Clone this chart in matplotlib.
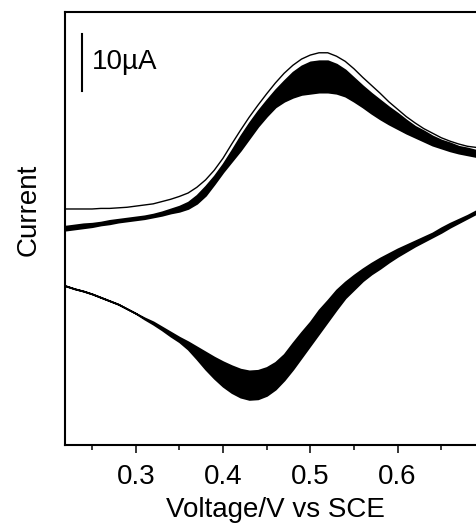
import matplotlib
matplotlib.use("Agg")
import matplotlib.pyplot as plt

plt.rcParams['font.family'] = ['Liberation Sans', 'DejaVu Sans']

# potential grid (V vs SCE), 0.21 ... 0.70 in 10 mV steps
voltage = [0.21, 0.22, 0.23, 0.24, 0.25, 0.26, 0.27, 0.28, 0.29, 0.30,
           0.31, 0.32, 0.33, 0.34, 0.35, 0.36, 0.37, 0.38, 0.39, 0.40,
           0.41, 0.42, 0.43, 0.44, 0.45, 0.46, 0.47, 0.48, 0.49, 0.50,
           0.51, 0.52, 0.53, 0.54, 0.55, 0.56, 0.57, 0.58, 0.59, 0.60,
           0.61, 0.62, 0.63, 0.64, 0.65, 0.66, 0.67, 0.68, 0.69, 0.70]

# anodic sweep, first cycle (thin outer line), uA
fwd_first = [3.7, 3.7, 3.7, 3.7, 3.7, 3.8, 3.8, 3.9, 4.0, 4.2,
             4.4, 4.6, 5.0, 5.4, 5.9, 6.5, 7.5, 8.8, 10.5, 12.6,
             15.1, 17.5, 19.8, 21.9, 23.9, 25.8, 27.5, 28.9, 30.0, 30.7,
             31.1, 31.1, 30.5, 29.6, 28.3, 26.8, 25.4, 24.0, 22.5, 21.2,
             19.9, 18.8, 17.8, 17.0, 16.2, 15.6, 15.1, 14.7, 14.5, 14.2]

# anodic sweep, band of the later cycles: cycle 2 (top) and last cycle (bottom)
fwd_band_top = [0.7, 0.7, 0.9, 1.1, 1.2, 1.4, 1.7, 1.9, 2.1, 2.3,
                2.5, 2.8, 3.2, 3.7, 4.2, 4.9, 6.1, 7.7, 9.5, 11.6,
                14.0, 16.5, 18.8, 20.9, 22.8, 24.6, 26.2, 27.7, 28.8, 29.5,
                29.7, 29.7, 29.1, 28.1, 26.7, 25.3, 24.0, 22.8, 21.6, 20.5,
                19.3, 18.2, 17.4, 16.5, 15.8, 15.3, 14.7, 14.4, 14.0, 13.7]
fwd_band_bot = [0.0, 0.0, 0.2, 0.4, 0.6, 0.9, 1.1, 1.4, 1.6, 1.8,
                2.0, 2.3, 2.6, 3.0, 3.3, 3.8, 4.7, 6.1, 8.1, 10.2,
                12.1, 14.0, 16.1, 18.2, 20.0, 21.6, 22.6, 23.3, 23.8, 24.0,
                24.2, 24.2, 24.0, 23.5, 22.6, 21.6, 20.5, 19.5, 18.6, 17.8,
                17.0, 16.3, 15.6, 14.9, 14.4, 13.9, 13.5, 13.2, 12.9, 12.6]

# cathodic sweep band: last cycle (top) to first cycle (bottom)
rev_band_top = [-9.5, -9.8, -10.3, -10.7, -11.2, -11.8, -12.4, -13.0, -13.8, -14.6,
                -15.4, -16.1, -17.0, -17.9, -18.8, -19.6, -20.5, -21.4, -22.3, -23.1,
                -23.8, -24.4, -24.7, -24.6, -24.1, -23.2, -21.8, -19.8, -17.9, -16.1,
                -14.0, -12.3, -10.5, -9.1, -7.9, -6.8, -5.8, -4.9, -4.1, -3.3,
                -2.6, -1.9, -1.2, -0.5, 0.4, 1.2, 1.9, 2.6, 3.4, 4.2]
rev_band_bot = [-9.5, -9.8, -10.3, -10.7, -11.2, -11.8, -12.4, -13.0, -13.8, -14.6,
                -15.6, -16.5, -17.5, -18.6, -19.6, -20.9, -22.6, -24.4, -26.0, -27.4,
                -28.5, -29.3, -29.7, -29.6, -29.0, -27.9, -26.3, -24.4, -22.3, -20.2,
                -18.1, -16.0, -13.9, -11.9, -10.4, -8.9, -7.7, -6.7, -5.6, -4.6,
                -3.7, -2.8, -2.0, -1.2, -0.4, 0.5, 1.3, 2.1, 2.9, 3.7]

major_ticks = [0.3, 0.4, 0.5, 0.6]
minor_ticks = [0.25, 0.35, 0.45, 0.55, 0.65]

fig = plt.figure(figsize=(4.76, 5.27), dpi=100)
ax = fig.add_axes([0.1366, 0.1556, 0.882, 0.8216])

ax.fill_between(voltage, fwd_band_top, fwd_band_bot, color='black', lw=1.3)
ax.fill_between(voltage, rev_band_top, rev_band_bot, color='black', lw=1.3)
ax.plot(voltage, fwd_first, color='black', lw=1.0)

# 10 uA scale bar
ax.plot([0.2385, 0.2385], [24.4, 34.4], color='black', lw=1.5)
ax.text(0.2500, 29.4, '10\u00b5A', fontsize=20, va='center', ha='left')

ax.set_xlim(0.219, 0.70)
ax.set_ylim(-37.7, 38.25)
ax.set_xticks(major_ticks)
ax.set_xticks(minor_ticks, minor=True)
ax.tick_params(axis='x', which='major', length=6, width=1.1, labelsize=20, pad=8, direction='out')
ax.tick_params(axis='x', which='minor', length=3.6, width=1.1, direction='out')
ax.set_yticks([])
for s in ax.spines.values():
    s.set_linewidth(1.5)

ax.set_xlabel('Voltage/V vs SCE', fontsize=20, labelpad=4.5)
fig.text(29 / 476, 1 - 210 / 527, 'Current', fontsize=20, rotation=90, va='center', ha='center')

fig.savefig('out.png', dpi=100)
